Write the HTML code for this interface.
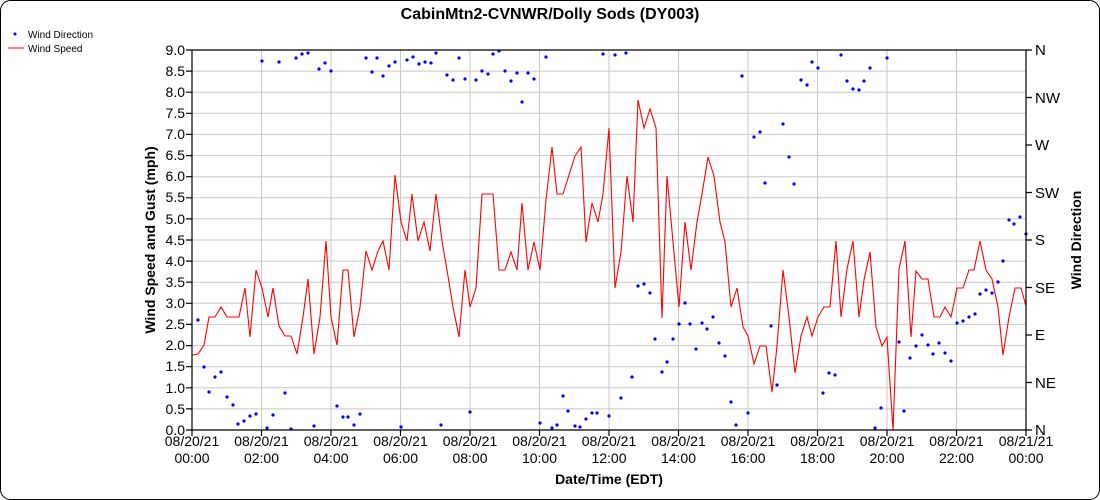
<!DOCTYPE html>
<html><head><meta charset="utf-8"><style>html,body{margin:0;padding:0;background:#fff}svg{display:block}text{font-family:"Liberation Sans",Arial,sans-serif}</style></head><body>
<svg width="1100" height="500" viewBox="0 0 1100 500" xmlns="http://www.w3.org/2000/svg">
<rect x="0.5" y="0.5" width="1099" height="499" rx="10" fill="#fff" stroke="#000"/>
<text x="550" y="19" text-anchor="middle" font-size="16" font-weight="bold">CabinMtn2-CVNWR/Dolly Sods (DY003)</text>
<circle cx="15" cy="34" r="1.5" fill="#00f"/><text x="28" y="38" font-size="10">Wind Direction</text>
<line x1="8" y1="48" x2="24" y2="48" stroke="#f00"/><text x="28" y="52" font-size="10">Wind Speed</text>
<g stroke="#c8c8c8" stroke-width="1">
<line x1="192" y1="71.1" x2="1026" y2="71.1"/><line x1="192" y1="92.2" x2="1026" y2="92.2"/><line x1="192" y1="113.3" x2="1026" y2="113.3"/><line x1="192" y1="134.4" x2="1026" y2="134.4"/><line x1="192" y1="155.6" x2="1026" y2="155.6"/><line x1="192" y1="176.7" x2="1026" y2="176.7"/><line x1="192" y1="197.8" x2="1026" y2="197.8"/><line x1="192" y1="218.9" x2="1026" y2="218.9"/><line x1="192" y1="240" x2="1026" y2="240"/><line x1="192" y1="261.1" x2="1026" y2="261.1"/><line x1="192" y1="282.2" x2="1026" y2="282.2"/><line x1="192" y1="303.3" x2="1026" y2="303.3"/><line x1="192" y1="324.4" x2="1026" y2="324.4"/><line x1="192" y1="345.6" x2="1026" y2="345.6"/><line x1="192" y1="366.7" x2="1026" y2="366.7"/><line x1="192" y1="387.8" x2="1026" y2="387.8"/><line x1="192" y1="408.9" x2="1026" y2="408.9"/>
<line x1="261.5" y1="50" x2="261.5" y2="430"/><line x1="331" y1="50" x2="331" y2="430"/><line x1="400.5" y1="50" x2="400.5" y2="430"/><line x1="470" y1="50" x2="470" y2="430"/><line x1="539.5" y1="50" x2="539.5" y2="430"/><line x1="609" y1="50" x2="609" y2="430"/><line x1="678.5" y1="50" x2="678.5" y2="430"/><line x1="748" y1="50" x2="748" y2="430"/><line x1="817.5" y1="50" x2="817.5" y2="430"/><line x1="887" y1="50" x2="887" y2="430"/><line x1="956.5" y1="50" x2="956.5" y2="430"/>
</g>
<polyline fill="none" stroke="#f00" stroke-width="1.1" points="192.7,355 198,354 204,345 209,317 215,317 221,307 227,317 233,317 239,317 245,288 250,337 256,270 262,288 268,317 273,288 279,326 285,336 291,336 297,354 303,317 308,279 314,354 320,317 326,241 331,317 337,345 343,270 348,270 354,337 360,307 366,251 372,270 378,251 383,241 389,270 395,175 401,222 407,241 412,194 418,241 424,222 430,251 436,194 442,241 447,270 453,307 459,337 465,270 470,307 476,288 482,194 493,194 499,270 505,270 511,252 517,270 522,203 528,270 534,242 540,270 546,200 552,147 557,194 563,194 569,175 575,156 581,147 586,242 592,203 598,222 603,194 609,128 615,288 621,252 627,176 633,222 638,100 644,128 650,109 656,128 662,318 667,176 673,242 679,307 685,222 691,270 697,222 702,194 708,157 714,176 720,222 725,242 731,307 737,288 743,327 748,336 754,364 760,346 766,346 772,392 777,346 783,270 789,317 795,373 801,336 807,317 812,336 818,317 824,307 830,307 836,241 841,317 847,269 853,241 859,317 864,280 870,252 876,327 882,346 887,337 893,430 899,269 905,241 911,337 916,271 922,279 928,279 934,317 940,317 945,307 951,317 957,288 963,288 969,270 974,270 980,241 986,270 992,279 998,307 1003,355 1009,317 1015,288 1021,288 1026,306"/>
<g fill="#00f">
<circle cx="198" cy="320" r="1.6"/><circle cx="204" cy="367" r="1.6"/><circle cx="209" cy="392" r="1.6"/><circle cx="215" cy="377" r="1.6"/><circle cx="221" cy="372" r="1.6"/><circle cx="227" cy="397" r="1.6"/><circle cx="233" cy="405" r="1.6"/><circle cx="238" cy="424" r="1.6"/><circle cx="244" cy="421" r="1.6"/><circle cx="250" cy="416" r="1.6"/><circle cx="256" cy="414" r="1.6"/><circle cx="267" cy="428" r="1.6"/><circle cx="273" cy="415" r="1.6"/><circle cx="285" cy="393" r="1.6"/><circle cx="291" cy="429" r="1.6"/><circle cx="314" cy="426" r="1.6"/><circle cx="337" cy="406" r="1.6"/><circle cx="343" cy="417" r="1.6"/><circle cx="348" cy="417" r="1.6"/><circle cx="354" cy="425" r="1.6"/><circle cx="360" cy="414" r="1.6"/><circle cx="401" cy="427" r="1.6"/><circle cx="441" cy="425" r="1.6"/><circle cx="470" cy="412" r="1.6"/>
<circle cx="262" cy="61" r="1.6"/><circle cx="279" cy="62" r="1.6"/><circle cx="296" cy="58" r="1.6"/><circle cx="302" cy="54" r="1.6"/><circle cx="308" cy="53" r="1.6"/><circle cx="319" cy="69" r="1.6"/><circle cx="325" cy="63" r="1.6"/><circle cx="331" cy="71" r="1.6"/><circle cx="366" cy="58" r="1.6"/><circle cx="372" cy="72" r="1.6"/><circle cx="377" cy="58" r="1.6"/><circle cx="383" cy="76" r="1.6"/><circle cx="389" cy="66" r="1.6"/><circle cx="395" cy="62" r="1.6"/>
<circle cx="407" cy="60" r="1.6"/><circle cx="413" cy="57" r="1.6"/><circle cx="419" cy="64" r="1.6"/><circle cx="425" cy="62" r="1.6"/><circle cx="431" cy="63" r="1.6"/><circle cx="436" cy="53" r="1.6"/><circle cx="447" cy="75" r="1.6"/><circle cx="453" cy="80" r="1.6"/><circle cx="459" cy="58" r="1.6"/><circle cx="465" cy="79" r="1.6"/><circle cx="476" cy="80" r="1.6"/><circle cx="482" cy="71" r="1.6"/><circle cx="488" cy="74" r="1.6"/><circle cx="493" cy="54" r="1.6"/><circle cx="499" cy="51" r="1.6"/><circle cx="505" cy="71" r="1.6"/><circle cx="511" cy="81" r="1.6"/><circle cx="517" cy="73" r="1.6"/><circle cx="522" cy="102" r="1.6"/><circle cx="528" cy="73" r="1.6"/><circle cx="534" cy="79" r="1.6"/><circle cx="546" cy="57" r="1.6"/>
<circle cx="540" cy="423" r="1.6"/><circle cx="552" cy="428" r="1.6"/><circle cx="557" cy="425" r="1.6"/><circle cx="563" cy="396" r="1.6"/><circle cx="568" cy="411" r="1.6"/><circle cx="575" cy="426" r="1.6"/><circle cx="580" cy="427" r="1.6"/><circle cx="586" cy="419" r="1.6"/><circle cx="592" cy="413" r="1.6"/><circle cx="597" cy="413" r="1.6"/><circle cx="603" cy="54" r="1.6"/><circle cx="609" cy="416" r="1.6"/><circle cx="615" cy="55" r="1.6"/><circle cx="621" cy="398" r="1.6"/><circle cx="626" cy="53" r="1.6"/><circle cx="632" cy="377" r="1.6"/><circle cx="638" cy="286" r="1.6"/><circle cx="644" cy="284" r="1.6"/><circle cx="650" cy="293" r="1.6"/><circle cx="655" cy="339" r="1.6"/><circle cx="662" cy="372" r="1.6"/><circle cx="667" cy="362" r="1.6"/><circle cx="673" cy="339" r="1.6"/><circle cx="679" cy="324" r="1.6"/><circle cx="685" cy="303" r="1.6"/><circle cx="690" cy="324" r="1.6"/><circle cx="696" cy="349" r="1.6"/><circle cx="702" cy="323" r="1.6"/><circle cx="707" cy="329" r="1.6"/><circle cx="713" cy="317" r="1.6"/><circle cx="719" cy="343" r="1.6"/><circle cx="725" cy="356" r="1.6"/><circle cx="731" cy="402" r="1.6"/><circle cx="736" cy="425" r="1.6"/><circle cx="742" cy="76" r="1.6"/><circle cx="748" cy="413" r="1.6"/><circle cx="754" cy="137" r="1.6"/><circle cx="760" cy="132" r="1.6"/><circle cx="765" cy="183" r="1.6"/><circle cx="771" cy="326" r="1.6"/><circle cx="777" cy="385" r="1.6"/><circle cx="783" cy="124" r="1.6"/><circle cx="789" cy="157" r="1.6"/><circle cx="794" cy="184" r="1.6"/>
<circle cx="801" cy="80" r="1.6"/><circle cx="807" cy="85" r="1.6"/><circle cx="812" cy="62" r="1.6"/><circle cx="818" cy="68" r="1.6"/><circle cx="823" cy="393" r="1.6"/><circle cx="829" cy="373" r="1.6"/><circle cx="835" cy="375" r="1.6"/><circle cx="841" cy="55" r="1.6"/><circle cx="847" cy="81" r="1.6"/><circle cx="853" cy="89" r="1.6"/><circle cx="859" cy="90" r="1.6"/><circle cx="864" cy="81" r="1.6"/><circle cx="870" cy="68" r="1.6"/><circle cx="875" cy="428" r="1.6"/><circle cx="881" cy="408" r="1.6"/><circle cx="887" cy="58" r="1.6"/>
<circle cx="899" cy="342" r="1.6"/><circle cx="904" cy="411" r="1.6"/><circle cx="910" cy="358" r="1.6"/><circle cx="916" cy="346" r="1.6"/><circle cx="922" cy="335" r="1.6"/><circle cx="928" cy="345" r="1.6"/><circle cx="933" cy="354" r="1.6"/><circle cx="939" cy="343" r="1.6"/><circle cx="945" cy="353" r="1.6"/><circle cx="951" cy="361" r="1.6"/><circle cx="957" cy="323" r="1.6"/><circle cx="963" cy="321" r="1.6"/><circle cx="969" cy="317" r="1.6"/><circle cx="975" cy="314" r="1.6"/><circle cx="980" cy="294" r="1.6"/><circle cx="986" cy="290" r="1.6"/><circle cx="992" cy="293" r="1.6"/><circle cx="998" cy="282" r="1.6"/><circle cx="1003" cy="261" r="1.6"/><circle cx="1009" cy="220" r="1.6"/><circle cx="1014" cy="224" r="1.6"/><circle cx="1020" cy="217" r="1.6"/><circle cx="1026" cy="234" r="1.6"/>
</g>
<g stroke="#000" stroke-width="1.2" fill="none">
<line x1="192" y1="50" x2="1026" y2="50"/>
<line x1="192" y1="50" x2="192" y2="430"/><line x1="1026" y1="50" x2="1026" y2="430"/><line x1="192" y1="430" x2="1026" y2="430"/>
<path d="M186,50h6M186,71.1h6M186,92.2h6M186,113.3h6M186,134.4h6M186,155.6h6M186,176.7h6M186,197.8h6M186,218.9h6M186,240h6M186,261.1h6M186,282.2h6M186,303.3h6M186,324.4h6M186,345.6h6M186,366.7h6M186,387.8h6M186,408.9h6M186,430h6"/>
<path d="M1026,50h6M1026,97.5h6M1026,145h6M1026,192.5h6M1026,240h6M1026,287.5h6M1026,335h6M1026,382.5h6M1026,430h6"/>
<path d="M192,430v6M261.5,430v6M331,430v6M400.5,430v6M470,430v6M539.5,430v6M609,430v6M678.5,430v6M748,430v6M817.5,430v6M887,430v6M956.5,430v6M1026,430v6"/>
</g>
<g font-size="14" text-anchor="end">
<text x="185" y="55">9.0</text><text x="185" y="76">8.5</text><text x="185" y="97">8.0</text><text x="185" y="118">7.5</text><text x="185" y="139">7.0</text><text x="185" y="160">6.5</text><text x="185" y="181">6.0</text><text x="185" y="202">5.5</text><text x="185" y="224">5.0</text><text x="185" y="245">4.5</text><text x="185" y="266">4.0</text><text x="185" y="287">3.5</text><text x="185" y="308">3.0</text><text x="185" y="329">2.5</text><text x="185" y="350">2.0</text><text x="185" y="371">1.5</text><text x="185" y="393">1.0</text><text x="185" y="414">0.5</text><text x="185" y="435">0.0</text>
</g>
<g font-size="15">
<text x="1035" y="55">N</text><text x="1035" y="103">NW</text><text x="1035" y="150">W</text><text x="1035" y="198">SW</text><text x="1035" y="245">S</text><text x="1035" y="293">SE</text><text x="1035" y="340">E</text><text x="1035" y="388">NE</text><text x="1035" y="435">N</text>
</g>
<g font-size="14" text-anchor="middle">
<text x="192" y="446">08/20/21</text><text x="192" y="463">00:00</text>
<text x="261.5" y="446">08/20/21</text><text x="261.5" y="463">02:00</text>
<text x="331" y="446">08/20/21</text><text x="331" y="463">04:00</text>
<text x="400.5" y="446">08/20/21</text><text x="400.5" y="463">06:00</text>
<text x="470" y="446">08/20/21</text><text x="470" y="463">08:00</text>
<text x="539.5" y="446">08/20/21</text><text x="539.5" y="463">10:00</text>
<text x="609" y="446">08/20/21</text><text x="609" y="463">12:00</text>
<text x="678.5" y="446">08/20/21</text><text x="678.5" y="463">14:00</text>
<text x="748" y="446">08/20/21</text><text x="748" y="463">16:00</text>
<text x="817.5" y="446">08/20/21</text><text x="817.5" y="463">18:00</text>
<text x="887" y="446">08/20/21</text><text x="887" y="463">20:00</text>
<text x="956.5" y="446">08/20/21</text><text x="956.5" y="463">22:00</text>
<text x="1026" y="446">08/21/21</text><text x="1026" y="463">00:00</text>
</g>
<text x="609" y="484" font-size="14" font-weight="bold" text-anchor="middle">Date/Time (EDT)</text>
<text transform="translate(155,240) rotate(-90)" font-size="14" font-weight="bold" text-anchor="middle">Wind Speed and Gust (mph)</text>
<text transform="translate(1081,240) rotate(-90)" font-size="14" font-weight="bold" text-anchor="middle">Wind Direction</text>
</svg>
</body></html>
